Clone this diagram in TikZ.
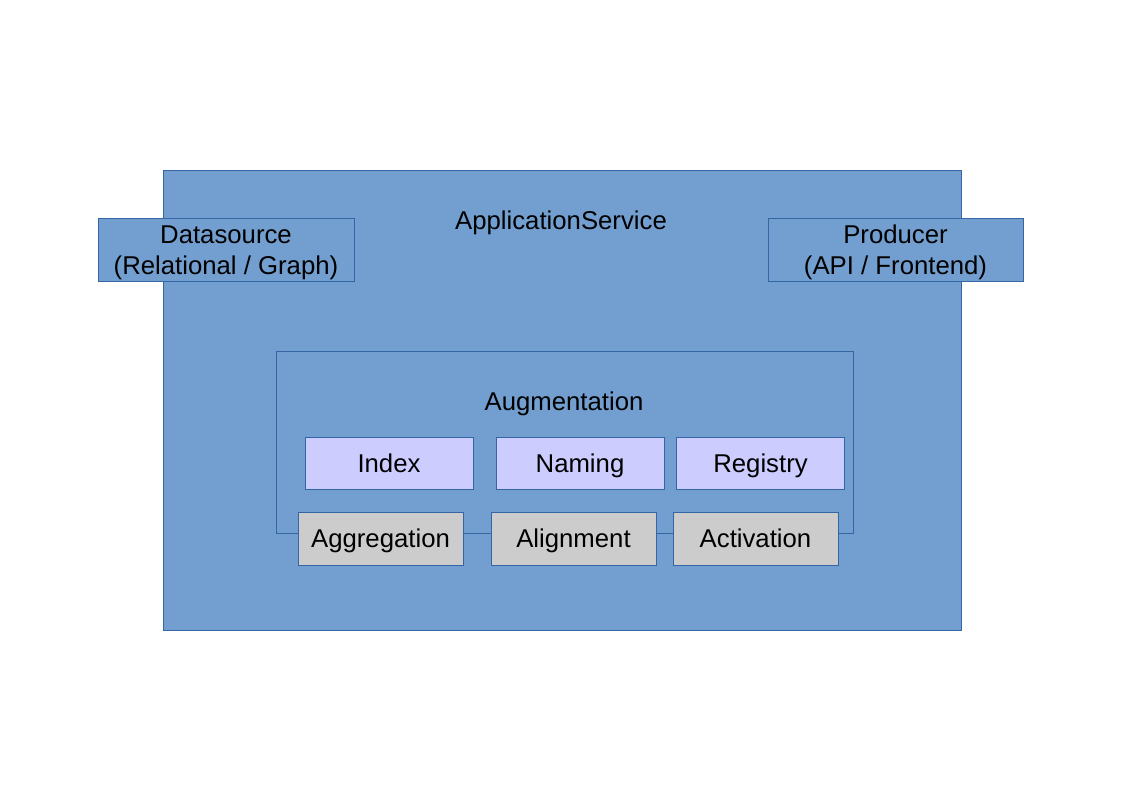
\documentclass[tikz,border=0pt]{standalone}
\usepackage{fontspec}
\setmainfont{Liberation Sans}
\usepackage{tikz}

\definecolor{appblue}{RGB}{114,159,207}
\definecolor{edgeblue}{RGB}{52,101,164}
\definecolor{partlilac}{RGB}{204,204,255}
\definecolor{partgrey}{RGB}{204,204,204}

\tikzset{
  box/.style={draw=edgeblue, line width=0.75pt, inner sep=0pt, align=center,
    font=\fontsize{19.3}{23}\selectfont},
  oneline/.style={text height=14pt, text depth=0pt},
  twoline/.style={text height=37pt, text depth=0pt},
  servicebox/.style={box, fill=appblue},
  partbox/.style={box, oneline, fill=partlilac, minimum width=126pt, minimum height=39pt},
  stepbox/.style={box, oneline, fill=partgrey, minimum width=123.75pt, minimum height=39.75pt},
  title/.style={inner sep=0pt, oneline, font=\fontsize{19.3}{23}\selectfont}
}

\begin{document}
\begin{tikzpicture}[x=0.75pt,y=0.75pt,yscale=-1]
\useasboundingbox (0,0) rectangle (1123,794);

%Application service
\node[servicebox, minimum width=598.5pt, minimum height=345pt] (app) at (562,400) {};
% Text Node
\node[title] (apptitle) at (561,220) {ApplicationService};

%Datasource and producer
\node[servicebox, twoline, minimum width=192pt, minimum height=47.25pt] (source) at (226,249.5) {Datasource\\(Relational / Graph)};
\node[servicebox, twoline, minimum width=191.25pt, minimum height=47.25pt] (producer) at (895.5,249.5) {Producer\\(API / Frontend)};

%Augmentation frame
\node[box, minimum width=432.75pt, minimum height=136.5pt] (aug) at (564.5,442) {};
% Text Node
\node[title] (augtitle) at (564,401) {Augmentation};

%Upper row
\node[partbox] (index) at (389,463) {Index};
\node[partbox] (naming) at (580,463) {Naming};
\node[partbox] (registry) at (760.5,463) {Registry};

%Lower row
\node[stepbox] (aggregation) at (380.5,538.5) {Aggregation};
\node[stepbox] (alignment) at (573.5,538.5) {Alignment};
\node[stepbox] (activation) at (755.5,538.5) {Activation};

\end{tikzpicture}
\end{document}
